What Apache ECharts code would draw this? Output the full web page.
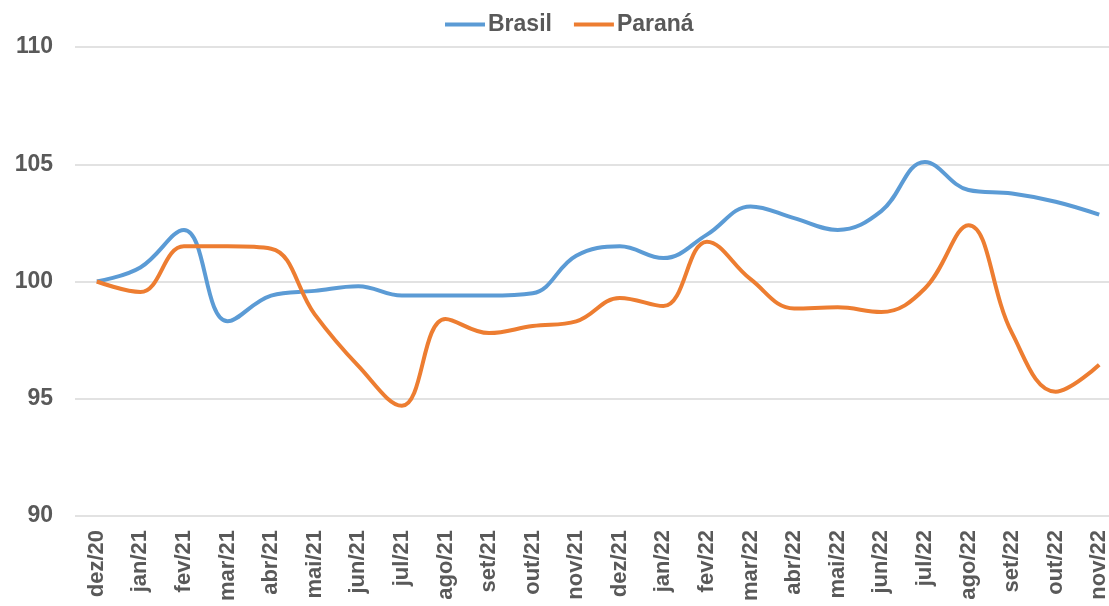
<!DOCTYPE html>
<html>
<head>
<meta charset="utf-8">
<script src="https://cdn.jsdelivr.net/npm/echarts@6/dist/echarts.min.js"></script>
<style>
  html, body { margin: 0; padding: 0; background: #fff; }
  #chart { width: 1109px; height: 606px; }
</style>
</head>
<body>
<div id="chart"></div>
<script>
// meses (dez/20 a nov/22)
const meses = ['dez/20','jan/21','fev/21','mar/21','abr/21','mai/21','jun/21','jul/21','ago/21','set/21','out/21','nov/21',
  'dez/21','jan/22','fev/22','mar/22','abr/22','mai/22','jun/22','jul/22','ago/22','set/22','out/22','nov/22'];

// indice, base dez/20 = 100
const brasil = [100, 100.6, 102.2, 98.3, 99.4, 99.6, 99.8, 99.4, 99.4, 99.4, 99.5, 101.1,
  101.5, 101.0, 102.0, 103.2, 102.7, 102.2, 103.0, 105.1, 103.9, 103.75, 103.4, 102.85];
const parana = [100, 99.55, 101.5, 101.5, 101.4, 98.6, 96.4, 94.7, 98.4, 97.8, 98.1, 98.3,
  99.3, 98.95, 101.7, 100.1, 98.85, 98.9, 98.7, 99.7, 102.4, 97.8, 95.3, 96.45];

const yTicks = [90, 95, 100, 105, 110];

const cinza = '#595959';
const chart = echarts.init(document.getElementById('chart'));

chart.setOption({
  animation: false,
  textStyle: { fontFamily: 'Liberation Sans, Arial, sans-serif' },
  legend: {
    top: 8,
    left: 440,
    itemWidth: 40,
    itemHeight: 4,
    itemGap: 22,
    icon: 'rect',
    textStyle: { color: cinza, fontSize: 23, fontWeight: 'bold', padding: [0, 0, 0, -2] },
    data: ['Brasil', 'Paraná']
  },
  grid: { left: 75, top: 47, width: 1046, height: 469, outerBoundsMode: 'none' },
  xAxis: {
    type: 'category',
    data: meses,
    boundaryGap: true,
    axisLine: { show: false },
    axisTick: { show: false },
    axisLabel: {
      rotate: 90,
      margin: 14,
      color: cinza,
      fontSize: 22,
      fontWeight: 'bold',
      interval: 0
    }
  },
  yAxis: {
    type: 'value',
    min: yTicks[0],
    max: yTicks[yTicks.length - 1],
    interval: 5,
    axisLine: { show: false },
    axisTick: { show: false },
    axisLabel: {
      margin: 22,
      color: cinza,
      fontSize: 23,
      fontWeight: 'bold'
    },
    splitLine: { lineStyle: { color: '#d9d9d9', width: 1.5 } }
  },
  series: [
    {
      name: 'Brasil',
      type: 'line',
      data: brasil,
      smooth: 0.4,
      symbol: 'none',
      itemStyle: { color: '#5B9BD5' },
      lineStyle: { color: '#5B9BD5', width: 4 }
    },
    {
      name: 'Paraná',
      type: 'line',
      data: parana,
      smooth: 0.4,
      symbol: 'none',
      itemStyle: { color: '#ED7D31' },
      lineStyle: { color: '#ED7D31', width: 4 }
    }
  ]
});
</script>
</body>
</html>
